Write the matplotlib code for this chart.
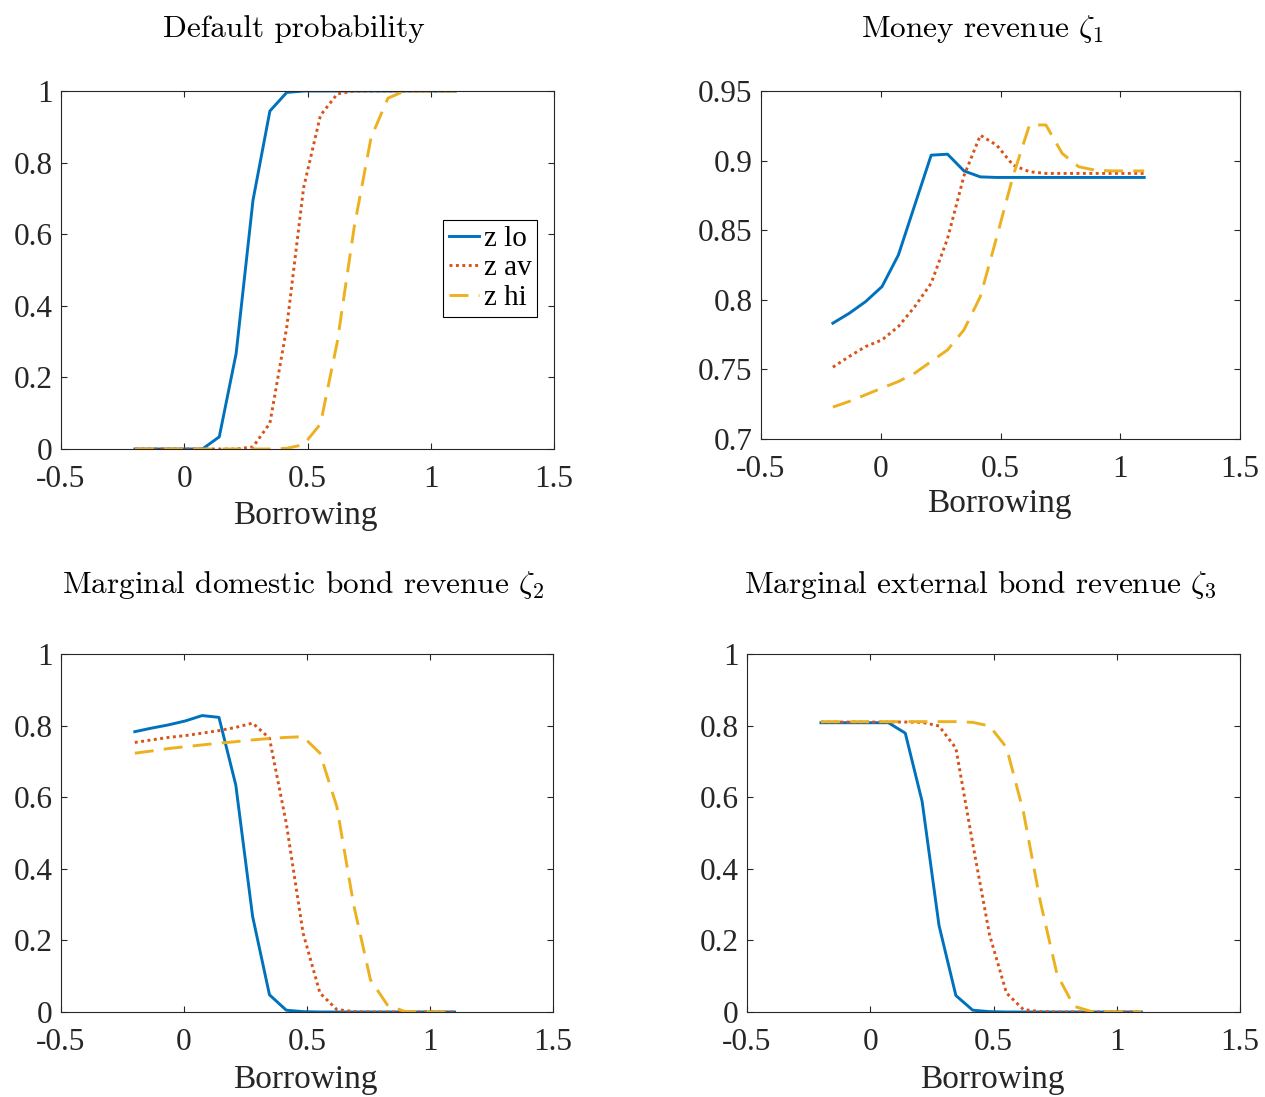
import matplotlib
matplotlib.use('Agg')
import matplotlib.pyplot as plt

plt.rcParams['font.family'] = ['Liberation Serif', 'DejaVu Serif']
plt.rcParams['mathtext.fontset'] = 'cm'
plt.rcParams['axes.unicode_minus'] = False

# borrowing grid
borrowing = [-0.2, -0.1316, -0.0632, 0.0053, 0.0737, 0.1421, 0.2105, 0.2789, 0.3474, 0.4158,
             0.4842, 0.5526, 0.6211, 0.6895, 0.7579, 0.8263, 0.8947, 0.9632, 1.0316, 1.1]

# default probability
dp_lo = [0, 0, 0, 0, 0, 0.034, 0.267, 0.695, 0.944, 0.996, 1, 1, 1, 1, 1, 1, 1, 1, 1, 1]
dp_av = [0, 0, 0, 0, 0, 0, 0, 0.006, 0.072, 0.34, 0.73, 0.932, 0.992, 1, 1, 1, 1, 1, 1, 1]
dp_hi = [0, 0, 0, 0, 0, 0, 0, 0, 0, 0.002, 0.012, 0.07, 0.30, 0.62, 0.87, 0.98, 1, 1, 1, 1]

# money revenue zeta1
mr_lo = [0.7832, 0.7903, 0.7987, 0.8095, 0.8322, 0.8681, 0.9039, 0.9046, 0.8926, 0.8883,
         0.8879, 0.8879, 0.8879, 0.8879, 0.8879, 0.8879, 0.8879, 0.8879, 0.8879, 0.8879]
mr_av = [0.7516, 0.7593, 0.7664, 0.7712, 0.7808, 0.7951, 0.8119, 0.8440, 0.8890, 0.9182,
         0.9111, 0.8967, 0.8920, 0.8908, 0.8908, 0.8908, 0.8908, 0.8908, 0.8908, 0.8908]
mr_hi = [0.7229, 0.7270, 0.7318, 0.7366, 0.7413, 0.7473, 0.7557, 0.7640, 0.7784, 0.8023,
         0.8450, 0.8890, 0.9256, 0.9256, 0.9051, 0.8956, 0.8931, 0.8926, 0.8926, 0.8926]

# marginal domestic bond revenue zeta2
db_lo = [0.783, 0.793, 0.802, 0.813, 0.828, 0.823, 0.634, 0.267, 0.048, 0.005,
         0.001, 0, 0, 0, 0, 0, 0, 0, 0, 0]
db_av = [0.753, 0.760, 0.767, 0.772, 0.779, 0.786, 0.795, 0.807, 0.765, 0.527,
         0.220, 0.053, 0.007, 0.001, 0, 0, 0, 0, 0, 0]
db_hi = [0.723, 0.729, 0.736, 0.741, 0.746, 0.751, 0.755, 0.760, 0.764, 0.767,
         0.769, 0.723, 0.574, 0.300, 0.090, 0.020, 0.002, 0, 0, 0]

# marginal external bond revenue zeta3
eb_lo = [0.808, 0.808, 0.808, 0.808, 0.808, 0.779, 0.588, 0.242, 0.046, 0.005,
         0.001, 0, 0, 0, 0, 0, 0, 0, 0, 0]
eb_av = [0.810, 0.810, 0.810, 0.810, 0.810, 0.810, 0.809, 0.799, 0.737, 0.470,
         0.215, 0.053, 0.007, 0.001, 0, 0, 0, 0, 0, 0]
eb_hi = [0.811, 0.811, 0.811, 0.811, 0.811, 0.811, 0.811, 0.811, 0.811, 0.809,
         0.799, 0.739, 0.560, 0.310, 0.105, 0.016, 0.002, 0, 0, 0]

x_ticks = [-0.5, 0, 0.5, 1, 1.5]
x_ticklabels = ['-0.5', '0', '0.5', '1', '1.5']
y_ticks01 = [0, 0.2, 0.4, 0.6, 0.8, 1]
y_ticklabels01 = ['0', '0.2', '0.4', '0.6', '0.8', '1']
y_ticks_mr = [0.7, 0.75, 0.8, 0.85, 0.9, 0.95]
y_ticklabels_mr = ['0.7', '0.75', '0.8', '0.85', '0.9', '0.95']

c_lo, c_av, c_hi = '#0072BD', '#D95319', '#EDB120'
ink = '#262626'

W, H = 1265, 1097
fig = plt.figure(figsize=(W / 100, H / 100), dpi=100)


def rect(x0, y0, x1, y1):
    return [x0 / W, 1 - y1 / H, (x1 - x0) / W, (y1 - y0) / H]


def panel(box, lo, av, hi, yticks, ylabels, ylim, title, title_xy, xlabel_xy):
    ax = fig.add_axes(rect(*box))
    ax.plot(borrowing, lo, color=c_lo, lw=2.1, label='z lo')
    ax.plot(borrowing, av, color=c_av, lw=2.1, linestyle=(0, (1, 1.2)), label='z av')
    ax.plot(borrowing, hi, color=c_hi, lw=2.1, linestyle=(0, (6.5, 3.5)), label='z hi')
    ax.set_xlim(-0.5, 1.5)
    ax.set_ylim(*ylim)
    ax.set_xticks(x_ticks)
    ax.set_xticklabels(x_ticklabels)
    ax.set_yticks(yticks)
    ax.set_yticklabels(ylabels)
    ax.tick_params(direction='in', top=True, right=True, length=4, width=0.8,
                   color=ink, labelcolor=ink, labelsize=22.5)
    ax.tick_params(axis='x', pad=11.5)
    ax.tick_params(axis='y', pad=6)
    for s in ax.spines.values():
        s.set_color(ink)
        s.set_linewidth(0.8)
    fig.text(title_xy[0] / W, 1 - title_xy[1] / H, title, family='cmr10',
             fontsize=22.5, ha='center', va='baseline', color='black')
    fig.text(xlabel_xy[0] / W, 1 - xlabel_xy[1] / H, 'Borrowing', fontsize=24,
             ha='center', va='baseline', color=ink)
    return ax


ax1 = panel((61, 91, 554, 449), dp_lo, dp_av, dp_hi, y_ticks01, y_ticklabels01, (0, 1),
            'Default probability', (294, 37), (305, 524))
leg = ax1.legend(loc='upper right', bbox_to_anchor=(0.966, 0.64), borderaxespad=0,
                 fontsize=21, handlelength=1.05, handletextpad=0.15, labelspacing=0.1,
                 borderpad=0.2, fancybox=False, framealpha=1)
leg.get_frame().set_edgecolor('black')
leg.get_frame().set_linewidth(0.8)

panel((761, 91, 1240, 439), mr_lo, mr_av, mr_hi, y_ticks_mr, y_ticklabels_mr, (0.7, 0.95),
      r'Money revenue $\zeta_1$', (982, 37), (999, 512))
panel((61, 654, 553, 1012), db_lo, db_av, db_hi, y_ticks01, y_ticklabels01, (0, 1),
      r'Marginal domestic bond revenue $\zeta_2$', (303, 593), (305, 1088))
panel((747, 654, 1240, 1012), eb_lo, eb_av, eb_hi, y_ticks01, y_ticklabels01, (0, 1),
      r'Marginal external bond revenue $\zeta_3$', (980, 593), (992, 1088))

plt.savefig('out.png', dpi=100)
